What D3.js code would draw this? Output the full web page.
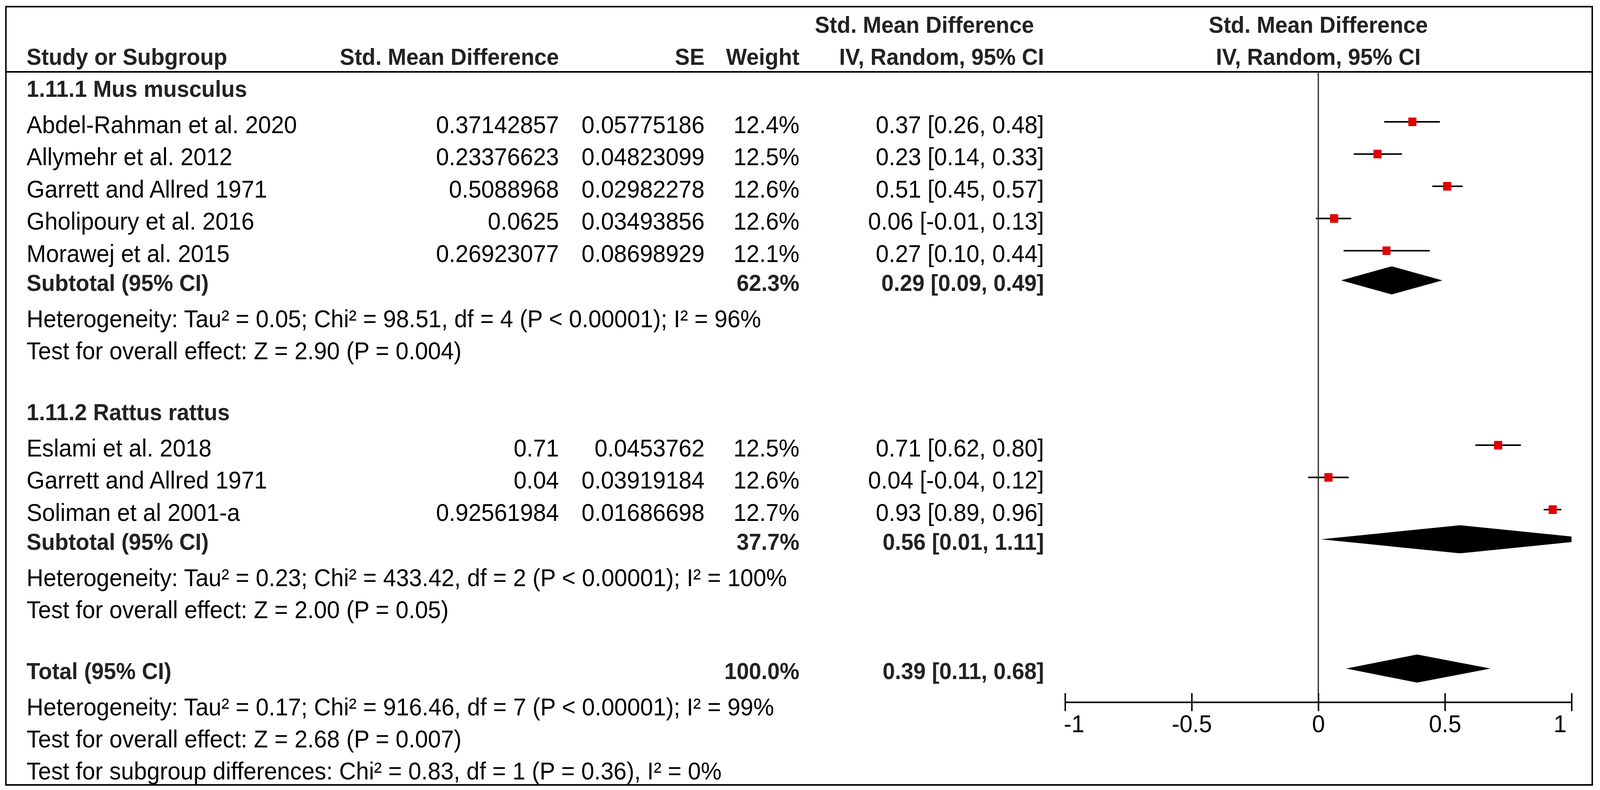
<!DOCTYPE html>
<html>
<head>
<meta charset="utf-8">
<script src="https://cdn.jsdelivr.net/npm/d3@7"></script>
<style>
  html, body { margin: 0; padding: 0; background: #fff; width: 100%; height: 100%; overflow: hidden; }
  svg { display: block; width: 100vw; height: 100vh; }
  text { font-family: "Liberation Sans", Arial, sans-serif; }
</style>
</head>
<body>
<svg id="chart" viewBox="0 0 4331 2023" preserveAspectRatio="none"></svg>
<script>
// ---- data ----
var groupNames = ["1.11.1 Mus musculus", "1.11.2 Rattus rattus"];

var studyNames = [
    "Abdel-Rahman et al. 2020", "Allymehr et al. 2012", "Garrett and Allred 1971",
    "Gholipoury et al. 2016", "Morawej et al. 2015",
    "Eslami et al. 2018", "Garrett and Allred 1971", "Soliman et al 2001-a"
];
var studyGroup = [0, 0, 0, 0, 0, 1, 1, 1];
var smdValues = [0.37142857, 0.23376623, 0.5088968, 0.0625, 0.26923077, 0.71, 0.04, 0.92561984];
var seValues = [0.05775186, 0.04823099, 0.02982278, 0.03493856, 0.08698929, 0.0453762, 0.03919184, 0.01686698];
var weightValues = [12.4, 12.5, 12.6, 12.6, 12.1, 12.5, 12.6, 12.7];
var ciLower = [0.26, 0.14, 0.45, -0.01, 0.10, 0.62, -0.04, 0.89];
var ciUpper = [0.48, 0.33, 0.57, 0.13, 0.44, 0.80, 0.12, 0.96];

var subtotalWeight = [62.3, 37.7];
var subtotalEst = [0.29, 0.56];
var subtotalLower = [0.09, 0.01];
var subtotalUpper = [0.49, 1.11];

var totalWeight = 100.0;
var totalEst = 0.39;
var totalLower = 0.11;
var totalUpper = 0.68;

var groupNotes = [
    ["Heterogeneity: Tau\u00b2 = 0.05; Chi\u00b2 = 98.51, df = 4 (P < 0.00001); I\u00b2 = 96%",
     "Test for overall effect: Z = 2.90 (P = 0.004)"],
    ["Heterogeneity: Tau\u00b2 = 0.23; Chi\u00b2 = 433.42, df = 2 (P < 0.00001); I\u00b2 = 100%",
     "Test for overall effect: Z = 2.00 (P = 0.05)"]
];
var totalNotes = [
    "Heterogeneity: Tau\u00b2 = 0.17; Chi\u00b2 = 916.46, df = 7 (P < 0.00001); I\u00b2 = 99%",
    "Test for overall effect: Z = 2.68 (P = 0.007)",
    "Test for subgroup differences: Chi\u00b2 = 0.83, df = 1 (P = 0.36), I\u00b2 = 0%"
];

var axisTicks = [-1, -0.5, 0, 0.5, 1];

// ---- layout ----
var svg = d3.select("#chart");
var frame = { left: 16, top: 17, right: 4310, bottom: 2010 };
var headerLine = 184;
var axisY = 1798;

var col = { name: 72, smd: 1513, se: 1907, weight: 2164, ci: 2826 };
var fontSize = 63, boldSize = 60;
var boldColor = "#222";

var x = d3.scaleLinear().domain([-1, 1]).range([2883, 4254]);

// build the row list, then stack them with gaps that depend on row type
var rows = [];
groupNames.forEach(function(g, gi) {
    rows.push({ type: "group", label: g });
    studyNames.forEach(function(n, i) {
        if (studyGroup[i] == gi) rows.push({ type: "study", i: i });
    });
    rows.push({ type: "subtotal", g: gi });
    groupNotes[gi].forEach(function(t) { rows.push({ type: "note", label: t }); });
});
rows.push({ type: "total" });
totalNotes.forEach(function(t) { rows.push({ type: "note", label: t }); });

function gapBefore(prev, cur) {
    if (cur == "study" && prev == "group") return 93;
    if (cur == "study") return 82.5;
    if ((cur == "subtotal" || cur == "total") && prev == "study") return 74;
    if (cur == "note" && (prev == "subtotal" || prev == "total")) return 93;
    if (cur == "note") return 82;
    return 156; // new group or total after notes
}
var baseline = 248;
rows.forEach(function(r, k) {
    if (k > 0) baseline += gapBefore(rows[k - 1].type, r.type);
    r.y = baseline;
});

// ---- frame and header ----
svg.append("rect")
    .attr("x", frame.left).attr("y", frame.top)
    .attr("width", frame.right - frame.left).attr("height", frame.bottom - frame.top)
    .attr("fill", "none").attr("stroke", "#000").attr("stroke-width", 4);

svg.append("line")
    .attr("x1", frame.left).attr("x2", frame.right)
    .attr("y1", headerLine).attr("y2", headerLine)
    .attr("stroke", "#000").attr("stroke-width", 4);

function bold(sel) {
    return sel.attr("font-weight", "bold").attr("font-size", boldSize).attr("fill", boldColor);
}
var head = svg.append("g");
bold(head.append("text")).attr("x", col.name).attr("y", 166).text("Study or Subgroup");
bold(head.append("text")).attr("x", col.smd).attr("y", 166).attr("text-anchor", "end").text("Std. Mean Difference");
bold(head.append("text")).attr("x", col.se).attr("y", 166).attr("text-anchor", "end").text("SE");
bold(head.append("text")).attr("x", col.weight).attr("y", 166).attr("text-anchor", "end").text("Weight");
bold(head.append("text")).attr("x", 2799).attr("y", 84).attr("text-anchor", "end").text("Std. Mean Difference");
bold(head.append("text")).attr("x", col.ci).attr("y", 166).attr("text-anchor", "end").text("IV, Random, 95% CI");
bold(head.append("text")).attr("x", x(0)).attr("y", 84).attr("text-anchor", "middle").text("Std. Mean Difference");
bold(head.append("text")).attr("x", x(0)).attr("y", 166).attr("text-anchor", "middle").text("IV, Random, 95% CI");

// ---- table text ----
function ciText(est, lo, hi) {
    return est.toFixed(2) + " [" + lo.toFixed(2) + ", " + hi.toFixed(2) + "]";
}
var tbl = svg.append("g");
rows.forEach(function(r) {
    if (r.type == "group") {
        bold(tbl.append("text")).attr("x", col.name).attr("y", r.y).text(r.label);
    } else if (r.type == "note") {
        tbl.append("text").attr("x", col.name).attr("y", r.y)
            .attr("font-size", fontSize).text(r.label);
    } else if (r.type == "study") {
        var i = r.i;
        var cells = [
            [col.name, "start", studyNames[i]],
            [col.smd, "end", String(smdValues[i])],
            [col.se, "end", String(seValues[i])],
            [col.weight, "end", weightValues[i].toFixed(1) + "%"],
            [col.ci, "end", ciText(smdValues[i], ciLower[i], ciUpper[i])]
        ];
        cells.forEach(function(c) {
            tbl.append("text").attr("x", c[0]).attr("y", r.y)
                .attr("text-anchor", c[1]).attr("font-size", fontSize).text(c[2]);
        });
    } else {
        var isTotal = r.type == "total";
        var w = isTotal ? totalWeight : subtotalWeight[r.g];
        var est = isTotal ? totalEst : subtotalEst[r.g];
        var lo = isTotal ? totalLower : subtotalLower[r.g];
        var hi = isTotal ? totalUpper : subtotalUpper[r.g];
        bold(tbl.append("text")).attr("x", col.name).attr("y", r.y)
            .text(isTotal ? "Total (95% CI)" : "Subtotal (95% CI)");
        bold(tbl.append("text")).attr("x", col.weight).attr("y", r.y)
            .attr("text-anchor", "end").text(w.toFixed(1) + "%");
        bold(tbl.append("text")).attr("x", col.ci).attr("y", r.y)
            .attr("text-anchor", "end").text(ciText(est, lo, hi));
        r.est = est; r.lo = lo; r.hi = hi;
    }
});

// ---- forest plot ----
svg.append("clipPath").attr("id", "plotclip")
    .append("rect")
    .attr("x", x(-1)).attr("y", headerLine)
    .attr("width", x(1) - x(-1)).attr("height", axisY - headerLine);

var plot = svg.append("g").attr("clip-path", "url(#plotclip)");

// line of no effect
svg.append("line")
    .attr("x1", x(0)).attr("x2", x(0))
    .attr("y1", headerLine).attr("y2", axisY - 23)
    .attr("stroke", "#333").attr("stroke-width", 3.5);

var studyRows = rows.filter(function(r) { return r.type == "study"; });
var side = d3.scaleSqrt().domain([0, 12.5]).range([0, 22]);

plot.selectAll("line.ci").data(studyRows).enter().append("line")
    .attr("class", "ci")
    .attr("x1", function(r) { return x(ciLower[r.i]); })
    .attr("x2", function(r) { return x(ciUpper[r.i]); })
    .attr("y1", function(r) { return r.y - 29; })
    .attr("y2", function(r) { return r.y - 29; })
    .attr("stroke", "#000").attr("stroke-width", 4);

plot.selectAll("rect.box").data(studyRows).enter().append("rect")
    .attr("class", "box")
    .attr("x", function(r) { return x(smdValues[r.i]) - side(weightValues[r.i]) / 2; })
    .attr("y", function(r) { return r.y - 29 - side(weightValues[r.i]) / 2; })
    .attr("width", function(r) { return side(weightValues[r.i]); })
    .attr("height", function(r) { return side(weightValues[r.i]); })
    .attr("fill", "#e00000");

var pooledRows = rows.filter(function(r) { return r.type == "subtotal" || r.type == "total"; });
var halfH = 36;
plot.selectAll("path.diamond").data(pooledRows).enter().append("path")
    .attr("class", "diamond")
    .attr("d", function(r) {
        var cy = r.y - 27;
        return "M" + x(r.lo) + "," + cy +
               "L" + x(r.est) + "," + (cy - halfH) +
               "L" + x(r.hi) + "," + cy +
               "L" + x(r.est) + "," + (cy + halfH) + "Z";
    })
    .attr("fill", "#000");

// ---- axis ----
var axis = d3.axisBottom(x).tickValues(axisTicks).tickSize(23).tickSizeOuter(0)
    .tickFormat(function(d) { return String(d); });
var ag = svg.append("g").attr("transform", "translate(0," + axisY + ")").call(axis);
ag.select(".domain").attr("stroke", "#000").attr("stroke-width", 4);
ag.selectAll(".tick line").attr("y1", -23).attr("y2", 23)
    .attr("stroke", "#000").attr("stroke-width", 4);
ag.selectAll(".tick text")
    .attr("y", 77).attr("dy", 0)
    .attr("font-size", fontSize)
    .attr("font-family", "'Liberation Sans', Arial, sans-serif")
    .attr("fill", "#000")
    .attr("text-anchor", function(d) { return d == -1 ? "start" : (d == 1 ? "end" : "middle"); })
    .attr("dx", function(d) { return d == -1 ? -4 : (d == 1 ? -14 : 0); });
</script>
</body>
</html>
